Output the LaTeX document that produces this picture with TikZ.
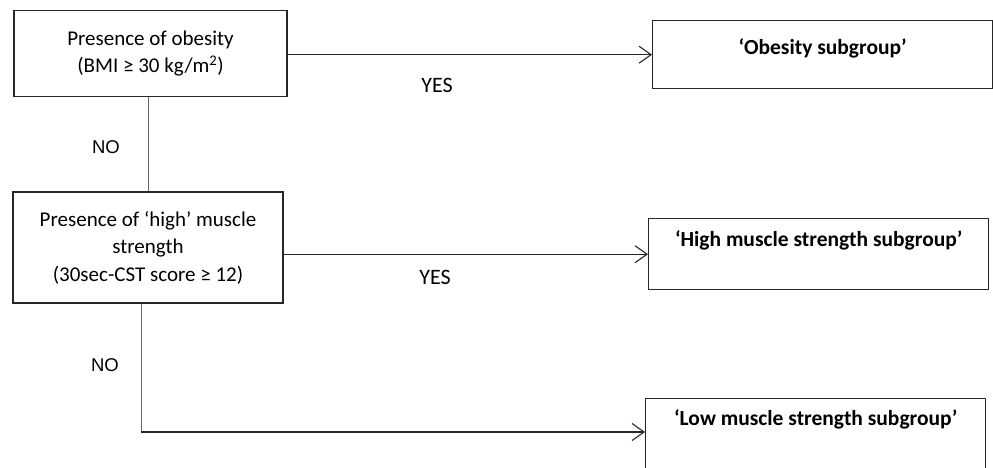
\documentclass[tikz,border=0pt]{standalone}
\usepackage{fontspec}
\setmainfont{Carlito}
\newfontfamily\arialfont{Liberation Sans}
\usetikzlibrary{arrows.meta}
\begin{document}
\begin{tikzpicture}
  [x=1pt,y=-1pt,
   question/.style={rectangle,draw=black!85,line width=1.4pt,align=center,
                    inner sep=0,font=\fontsize{21}{27.5}\selectfont},
   outcome/.style={rectangle,draw=black!85,line width=1.4pt,align=center,
                   inner sep=0,anchor=north west,minimum width=340,
                   font=\fontsize{21.5}{27.5}\selectfont\bfseries},
   link/.style={line width=1.1pt,black!85},
   drop/.style={line width=0.8pt,black!60},
   answer/.style={font=\fontsize{22}{24}\selectfont},
   >={Straight Barb[length=12pt,width=17pt,line width=1.1pt]}]
  \useasboundingbox (0,0) rectangle (993,468);
  % decision boxes
  \node[question,minimum width=273,minimum height=86] (obesity) at (150.5,53.5)
    {Presence of obesity\\(BMI ≥ 30 kg/m\textsuperscript{2})};
  \node[question,minimum width=270,minimum height=111] (strength) at (148,247.5)
    {Presence of ‘high’ muscle\\strength\\(30sec-CST score ≥ 12)};
  % subgroup boxes
  \node[outcome,text height=34,text depth=34] (obgroup) at (652,20) {‘Obesity subgroup’};
  \node[outcome,text height=28,text depth=43] (highgroup) at (648,218) {‘High muscle strength subgroup’};
  \node[outcome,text height=27,text depth=70] (lowgroup) at (645,398) {‘Low muscle strength subgroup’};
  \coordinate (bend) at (141,432);
  % connectors
  \draw[link,->] (obesity.east |- obgroup.west) -- (obgroup.west);
  \draw[link,->] (strength.east |- highgroup.west) -- (highgroup.west);
  \draw[drop] (obesity.south -| strength.north) -- (strength.north);
  \draw[drop] (bend |- strength.south) -- (bend);
  \draw[link,->] (bend) -- (bend -| lowgroup.west);
  % answers
  \node[answer] (yes1) at (437,85) {YES};
  \node[answer] (yes2) at (435,277) {YES};
  \node[answer,font=\arialfont\fontsize{18.5}{20}\selectfont] (no1) at (106,147) {NO};
  \node[answer,font=\arialfont\fontsize{18.5}{20}\selectfont] (no2) at (105,365) {NO};
\end{tikzpicture}
\end{document}
